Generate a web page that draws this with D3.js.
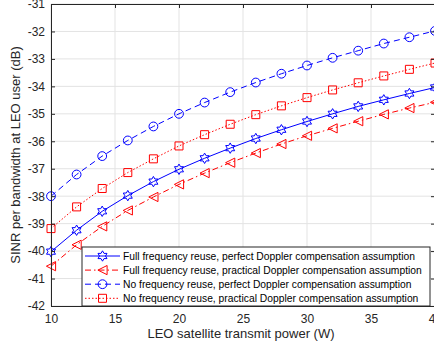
<!DOCTYPE html>
<html><head><meta charset="utf-8">
<script src="https://cdn.jsdelivr.net/npm/d3@7"></script>
<style>body{margin:0;background:#fff;overflow:hidden}svg{display:block;font-family:"Liberation Sans",Arial,sans-serif}</style>
</head><body><svg id="c" width="434" height="352"></svg>
<script>
const power = [10,12,14,16,18,20,22,24,26,28,30,32,34,36,38,40];
const fullPerfect = [-40.02,-39.24,-38.55,-37.98,-37.47,-37.02,-36.62,-36.25,-35.90,-35.58,-35.28,-35.00,-34.73,-34.49,-34.26,-34.04];
const fullPractical = [-40.55,-39.77,-39.10,-38.52,-38.03,-37.57,-37.16,-36.78,-36.43,-36.10,-35.80,-35.53,-35.27,-35.02,-34.79,-34.58];
const noPerfect = [-38.00,-37.21,-36.54,-35.97,-35.46,-35.00,-34.59,-34.21,-33.86,-33.54,-33.24,-32.96,-32.70,-32.44,-32.21,-31.98];
const noPractical = [-39.18,-38.39,-37.72,-37.14,-36.64,-36.17,-35.76,-35.38,-35.03,-34.71,-34.41,-34.13,-33.87,-33.62,-33.38,-33.15];
const xTicks = [10,15,20,25,30,35,40];
const yTicks = [-42,-41,-40,-39,-38,-37,-36,-35,-34,-33,-32,-31];
const seriesNames = [
  "Full frequency reuse, perfect Doppler compensation assumption",
  "Full frequency reuse, practical Doppler compensation assumption",
  "No frequency reuse, perfect Doppler compensation assumption",
  "No frequency reuse, practical Doppler compensation assumption"
];
const xLabel = "LEO satellite transmit power (W)";
const yLabel = "SINR per bandwidth at LEO user (dB)";

const styles = [
  {color:"#0000ff", dash:null, marker:"hex"},
  {color:"#ff0000", dash:"6,3,1.5,3", marker:"tri"},
  {color:"#0000ff", dash:"6,4", marker:"circ"},
  {color:"#ff0000", dash:"1.5,2", marker:"sq"}
];
const seriesData = [fullPerfect, fullPractical, noPerfect, noPractical];

const svg = d3.select("#c");
const L=51, R=435, T=4, B=306;
const x = d3.scaleLinear().domain([10,40]).range([L,R]);
const y = d3.scaleLinear().domain([-42,-31]).range([B,T]);
const axisCol = "#262626";

// grid
const g = svg.append("g");
g.selectAll(".gx").data(xTicks).join("line").attr("x1",d=>x(d)).attr("x2",d=>x(d)).attr("y1",T).attr("y2",B).attr("stroke","#e3e3e3").attr("stroke-width",1);
g.selectAll(".gy").data(yTicks).join("line").attr("x1",L).attr("x2",R).attr("y1",d=>y(d)).attr("y2",d=>y(d)).attr("stroke","#e3e3e3").attr("stroke-width",1);

// custom symbols
const hexagram = {draw(ctx,size){const ro=5.2, ri=3.0; for(let i=0;i<12;i++){const a=-Math.PI/2+i*Math.PI/6; const r=i%2?ri:ro; const px=r*Math.cos(a), py=r*Math.sin(a); if(i===0)ctx.moveTo(px,py); else ctx.lineTo(px,py);} ctx.closePath();}};
const triLeft = {draw(ctx,size){const r=4.6; ctx.moveTo(-r,0); ctx.lineTo(r,-r); ctx.lineTo(r,r); ctx.closePath();}};
const circ = {draw(ctx,size){ctx.moveTo(4.4,0); ctx.arc(0,0,4.4,0,2*Math.PI);}};
const sq = {draw(ctx,size){const r=4; ctx.rect(-r,-r,2*r,2*r);}};
const symMap = {hex:hexagram, tri:triLeft, circ:circ, sq:sq};

const line = d3.line().x((d,i)=>x(power[i])).y(d=>y(d));
const plot = svg.append("g");
seriesData.forEach((vals,k)=>{
  const s=styles[k];
  plot.append("path").attr("d",line(vals)).attr("fill","none").attr("stroke",s.color).attr("stroke-width",1).attr("stroke-dasharray",s.dash);
  plot.selectAll(null).data(vals).join("path")
    .attr("transform",(d,i)=>`translate(${x(power[i])},${y(d)})`)
    .attr("d",d3.symbol().type(symMap[s.marker])())
    .attr("fill","none").attr("stroke",s.color).attr("stroke-width",1);
});

// axes
const ax = svg.append("g").attr("transform",`translate(0,${B})`).call(d3.axisBottom(x).tickValues(xTicks).tickSize(-4).tickPadding(8).tickFormat(d3.format("d")));
const ay = svg.append("g").attr("transform",`translate(${L},0)`).call(d3.axisLeft(y).tickValues(yTicks).tickSize(-4).tickPadding(6).tickFormat(d=>d<0?"-"+Math.abs(d):d));
[ax,ay].forEach(a=>{a.select(".domain").attr("stroke",axisCol); a.selectAll(".tick line").attr("stroke",axisCol); a.selectAll("text").attr("fill",axisCol).attr("font-size",12).attr("font-family","Liberation Sans, Arial, sans-serif");});
// top & right box
const topAx = svg.append("g").attr("transform",`translate(0,${T})`).call(d3.axisTop(x).tickValues(xTicks).tickSize(-4).tickFormat(""));
const rightAx = svg.append("g").attr("transform",`translate(${R},0)`).call(d3.axisRight(y).tickValues(yTicks).tickSize(-4).tickFormat(""));
[topAx,rightAx].forEach(a=>{a.select(".domain").attr("stroke",axisCol); a.selectAll(".tick line").attr("stroke",axisCol);});

// labels
svg.append("text").attr("x",(L+R)/2 - 2).attr("y",338).attr("text-anchor","middle").attr("font-size",13).attr("fill",axisCol).text(xLabel);
svg.append("text").attr("transform",`translate(20,${(T+B)/2}) rotate(-90)`).attr("text-anchor","middle").attr("font-size",13).attr("fill",axisCol).text(yLabel);

// legend
const lg = svg.append("g");
const lx0=82, ly0=247, lx1=430, ly1=306;
lg.append("rect").attr("x",lx0).attr("y",ly0).attr("width",lx1-lx0).attr("height",ly1-ly0).attr("fill","#fff").attr("stroke",axisCol).attr("stroke-width",1);
seriesNames.forEach((name,k)=>{
  const s=styles[k]; const yy=256+k*14.1;
  lg.append("line").attr("x1",85).attr("x2",120).attr("y1",yy).attr("y2",yy).attr("stroke",s.color).attr("stroke-dasharray",s.dash);
  lg.append("path").attr("transform",`translate(102.5,${yy})`).attr("d",d3.symbol().type(symMap[s.marker])()).attr("fill","none").attr("stroke",s.color);
  lg.append("text").attr("x",123).attr("y",yy+3.6).attr("font-size",10.3).attr("fill","#000").text(name);
});
</script></body></html>
